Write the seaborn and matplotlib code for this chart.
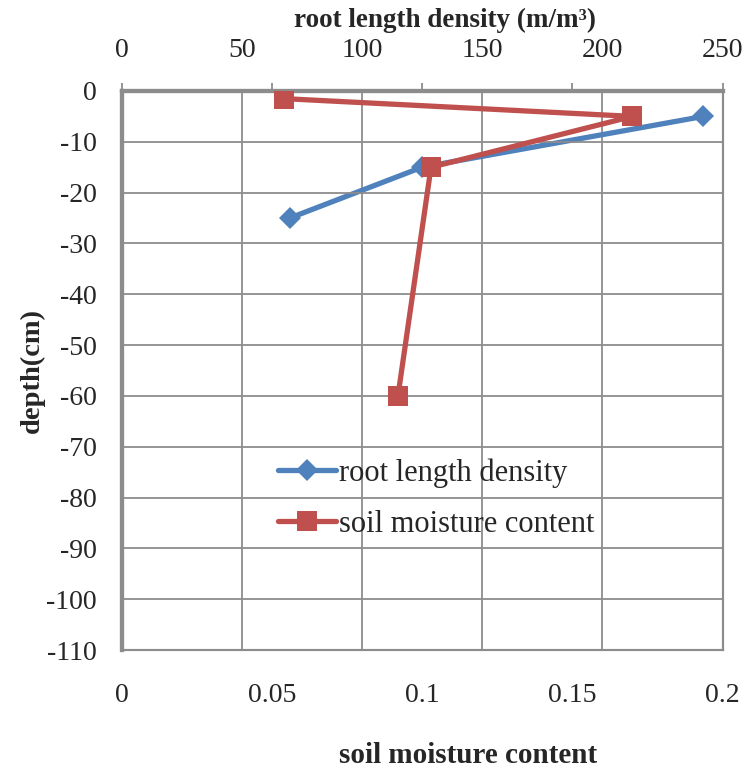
import matplotlib
matplotlib.use("Agg")
import matplotlib.pyplot as plt
import seaborn as sns
import pandas as pd

# Data
rld_depth = [-5, -15, -25]
rld_values = [242, 125, 70]          # root length density (m/m3), top axis
sm_depth = [-1.5, -5, -15, -60]
sm_values = [0.054, 0.170, 0.103, 0.092]  # soil moisture content, bottom axis

bottom_ticks = [0, 0.05, 0.1, 0.15, 0.2]
bottom_labels = ["0", "0.05", "0.1", "0.15", "0.2"]
top_ticks = [0, 50, 100, 150, 200, 250]
y_ticks = [0, -10, -20, -30, -40, -50, -60, -70, -80, -90, -100, -110]

sns.set_theme(style="white")
plt.rcParams["font.family"] = ["Liberation Serif", "DejaVu Serif"]

BLUE = "#4F81BD"
RED = "#C0504D"
GRID = "#8C8C8C"

fig = plt.figure(figsize=(7.46, 7.68), dpi=100)
ax = fig.add_axes([121.5 / 746, 1 - 650 / 768, (722.5 - 121.5) / 746, (650 - 91) / 768])
ax2 = ax.twiny()

df_sm = pd.DataFrame({"x": sm_values, "y": sm_depth})
df_rld = pd.DataFrame({"x": rld_values, "y": rld_depth})

ax.set_xlim(0, 0.2)
ax.set_ylim(-110, 0)
ax2.set_xlim(0, 250)

TICK_FS = 20

ax.set_yticks(y_ticks)
ax.set_yticklabels([str(v) for v in y_ticks], fontsize=TICK_FS)
ax.yaxis.grid(True, color=GRID, linewidth=1.3)
ax.xaxis.grid(False)
ax2.set_xticks(top_ticks)
ax2.set_xticklabels([str(v) for v in top_ticks], fontsize=TICK_FS)
ax2.xaxis.grid(True, color=GRID, linewidth=1.3)
ax2.yaxis.grid(False)

ax.set_xticks(bottom_ticks)
ax.set_xticklabels(bottom_labels, fontsize=TICK_FS)
ax.tick_params(axis="x", bottom=False, top=True, labelbottom=True, labeltop=False,
               length=6, width=1.3, color=GRID, direction="out", pad=18)
ax.tick_params(axis="y", left=False, pad=12)
ax2.tick_params(axis="x", top=False, bottom=False, pad=14)

for side, lw in [("left", 3.0), ("top", 3.0), ("right", 1.5), ("bottom", 1.5)]:
    for a in (ax, ax2):
        a.spines[side].set_color(GRID)
        a.spines[side].set_linewidth(lw)

sns.lineplot(data=df_rld, x="x", y="y", ax=ax2, sort=False, estimator=None,
             color=BLUE, linewidth=3.8, marker="D", markersize=11,
             markeredgewidth=0, label="root length density", legend=False, zorder=3)
sns.lineplot(data=df_sm, x="x", y="y", ax=ax, sort=False, estimator=None,
             color=RED, linewidth=3.8, marker="s", markersize=15,
             markeredgewidth=0, label="soil moisture content", legend=False, zorder=3)

ax.set_zorder(ax2.get_zorder() + 1)
ax.patch.set_visible(False)

ax.set_xlabel("soil moisture content", fontsize=21, fontweight="bold")
ax.xaxis.set_label_coords(0.576, -0.165)
ax.set_ylabel("depth(cm)", fontsize=20.5, fontweight="bold")
ax.yaxis.set_label_coords(-0.128, 0.5)
ax2.set_xlabel("root length density (m/m³)", fontsize=19.5, fontweight="bold")
ax2.xaxis.set_label_coords(0.538, 1.114)

h1, l1 = ax2.get_legend_handles_labels()
h2, l2 = ax.get_legend_handles_labels()
leg = ax.legend(h1 + h2, l1 + l2, loc="upper left", bbox_to_anchor=(0.26, 0.343),
                frameon=False, fontsize=22, handlelength=1.9, handletextpad=0.1,
                labelspacing=0.72, borderaxespad=0, borderpad=0)

fig.savefig("out.png", dpi=100, facecolor="white")
